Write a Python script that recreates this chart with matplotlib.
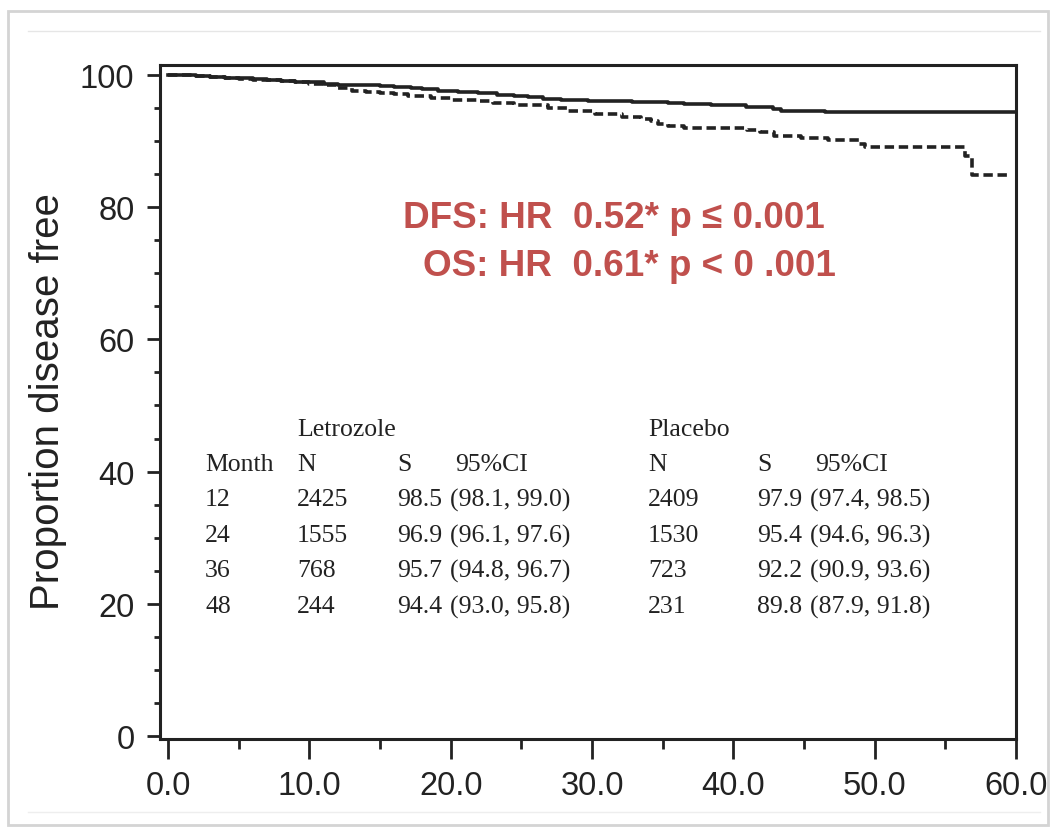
import matplotlib
matplotlib.use("Agg")
import matplotlib.pyplot as plt
from matplotlib.patches import Rectangle
from matplotlib.lines import Line2D
from matplotlib.ticker import MultipleLocator

W, H = 1055, 828

# Kaplan-Meier steps (months, % disease free)
letrozole_t = [0, 1, 2, 3, 4, 5, 6, 7, 8, 9, 10, 11, 12, 13, 14, 15, 16, 17.2, 18,
               19.1, 20.5, 21.9, 23.3, 24.5, 25.5, 26.5, 27.8, 29.7, 32.8, 35.4,
               36.5, 38.4, 40.9, 42.8, 43.4, 46.5, 60]
letrozole_s = [100, 99.95, 99.85, 99.75, 99.6, 99.5, 99.4, 99.3, 99.15, 99.0, 98.9,
               98.7, 98.5, 98.45, 98.4, 98.3, 98.2, 98.0, 97.8, 97.6, 97.4, 97.2,
               97.0, 96.8, 96.6, 96.4, 96.2, 96.0, 95.9, 95.7, 95.6, 95.4, 95.1,
               94.8, 94.5, 94.35, 94.35]

placebo_t = [0, 1, 2, 3, 4, 5, 6, 7, 8, 9, 10, 11, 12, 13, 14, 15, 16, 17, 18.6,
             20, 22.1, 23, 24.5, 26.9, 28.3, 30.2, 32.1, 33.5, 34.2, 34.7, 35.4,
             36.5, 41.0, 41.9, 42.9, 44.8, 46.7, 48.9, 49.3, 56.4, 56.9, 59.6]
placebo_s = [100, 99.95, 99.85, 99.7, 99.6, 99.45, 99.3, 99.2, 99.05, 98.9, 98.7,
             98.4, 98.0, 97.6, 97.4, 97.3, 97.1, 96.8, 96.5, 96.2, 96.0, 95.7,
             95.4, 95.0, 94.5, 94.1, 93.6, 93.3, 93.0, 92.6, 92.2, 91.9, 91.6,
             91.3, 90.7, 90.4, 90.1, 89.6, 89.1, 87.8, 84.8, 84.8]

# table inside the plot
months = ["12", "24", "36", "48"]
let_n = ["2425", "1555", "768", "244"]
let_s = ["98.5", "96.9", "95.7", "94.4"]
let_ci = ["(98.1, 99.0)", "(96.1, 97.6)", "(94.8, 96.7)", "(93.0, 95.8)"]
pla_n = ["2409", "1530", "723", "231"]
pla_s = ["97.9", "95.4", "92.2", "89.8"]
pla_ci = ["(97.4, 98.5)", "(94.6, 96.3)", "(90.9, 93.6)", "(87.9, 91.8)"]

stats_lines = ["DFS: HR  0.52* p \u2264 0.001", "OS: HR  0.61* p < 0 .001"]

sans = ["Liberation Sans", "DejaVu Sans"]
serif = ["Liberation Serif", "DejaVu Serif"]
ink = "#222222"


def fx(x):
    return x / W


def fy(y):
    return 1 - y / H


fig = plt.figure(figsize=(W / 100, H / 100), dpi=100)
fig.patch.set_facecolor("white")

# slide frame around the picture
fig.patches.append(Rectangle((fx(8), fy(826)), fx(1048) - fx(8), fy(12) - fy(826),
                             transform=fig.transFigure, fill=False,
                             edgecolor="#d4d4d4", linewidth=2))
fig.lines.append(Line2D([fx(28), fx(1040)], [fy(32), fy(32)],
                        transform=fig.transFigure, color="#e6e6e6", linewidth=1))
fig.lines.append(Line2D([fx(28), fx(1040)], [fy(813), fy(813)],
                        transform=fig.transFigure, color="#eeeeee", linewidth=1))

ax = fig.add_axes([fx(160), fy(740), fx(1016) - fx(160), fy(66) - fy(740)])
ax.plot(letrozole_t, letrozole_s, drawstyle="steps-post", color=ink, linewidth=2.6)
ax.plot(placebo_t, placebo_s, drawstyle="steps-post", color=ink, linewidth=2.6,
        linestyle=(0, (2.6, 1.3)))

ax.set_xlim(-0.57, 60)
ax.set_ylim(-0.45, 101.5)
for sp in ax.spines.values():
    sp.set_linewidth(2.2)
    sp.set_color(ink)

ax.xaxis.set_major_locator(MultipleLocator(10))
ax.xaxis.set_minor_locator(MultipleLocator(5))
ax.yaxis.set_major_locator(MultipleLocator(20))
ax.yaxis.set_minor_locator(MultipleLocator(5))
ax.set_xticks(range(0, 61, 10))
ax.set_xticklabels([f"{v:.1f}" for v in range(0, 61, 10)])
ax.tick_params(axis="x", which="major", length=14.4, width=2, pad=8, color=ink)
ax.tick_params(axis="x", which="minor", length=7.2, width=2, color=ink)
ax.tick_params(axis="y", which="major", length=9.4, width=2, pad=9, color=ink)
ax.tick_params(axis="y", which="minor", length=4.5, width=2, color=ink)
for lab in ax.get_xticklabels() + ax.get_yticklabels():
    lab.set_fontfamily(sans)
    lab.set_fontsize(23.5)
    lab.set_color(ink)

fig.text(fx(48), fy(402), "Proportion disease free", rotation=90, ha="center",
         va="center", fontsize=29, family=sans, color=ink)

# red hazard ratio text
red = "#c0504d"
fig.text(fx(403), fy(218), stats_lines[0], ha="left", va="center", fontsize=26.6,
         fontweight="bold", family=sans, color=red)
fig.text(fx(423), fy(266), stats_lines[1], ha="left", va="center", fontsize=26.6,
         fontweight="bold", family=sans, color=red)

# table
ts = dict(fontsize=18.5, family=serif, color=ink, va="center")
fig.text(fx(297), fy(430), "Letrozole", **ts)
fig.text(fx(648), fy(430), "Placebo", **ts)
fig.text(fx(205), fy(465), "Month", **ts)
fig.text(fx(297), fy(465), "N", **ts)
fig.text(fx(397), fy(465), "S", **ts)
fig.text(fx(455), fy(465), "95%CI", **ts)
fig.text(fx(648), fy(465), "N", **ts)
fig.text(fx(757), fy(465), "S", **ts)
fig.text(fx(815), fy(465), "95%CI", **ts)
row_y = [500, 536, 571, 607]
for i, y in enumerate(row_y):
    fig.text(fx(205), fy(y), months[i], **ts)
    fig.text(fx(297), fy(y), let_n[i], **ts)
    fig.text(fx(397), fy(y), let_s[i], **ts)
    fig.text(fx(450), fy(y), let_ci[i], **ts)
    fig.text(fx(648), fy(y), pla_n[i], **ts)
    fig.text(fx(757), fy(y), pla_s[i], **ts)
    fig.text(fx(810), fy(y), pla_ci[i], **ts)

fig.savefig("out.png", dpi=100)
